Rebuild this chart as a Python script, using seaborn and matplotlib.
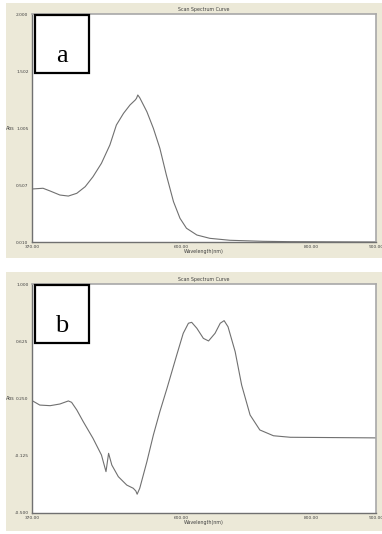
import matplotlib
matplotlib.use("Agg")
import matplotlib.pyplot as plt
from matplotlib.patches import Rectangle
import seaborn as sns
import pandas as pd

# ---- data ----
wl_a = [371, 387, 398, 413, 426, 439, 452, 464, 477, 490, 500, 511, 521, 529, 531, 533, 536, 547, 557, 567,
        577, 588, 598, 608, 624, 644, 675, 726, 767, 900]
abs_a = [0.473, 0.479, 0.455, 0.420, 0.411, 0.435, 0.493, 0.580, 0.697, 0.857, 1.031, 1.133, 1.206, 1.249,
         1.264, 1.293, 1.269, 1.147, 1.002, 0.828, 0.595, 0.362, 0.217, 0.130, 0.071, 0.042, 0.025, 0.016,
         0.013, 0.010]

wl_b = [371, 382, 398, 413, 426, 431, 439, 449, 464, 477, 484, 488, 493, 503, 516, 526, 530, 532, 536, 547,
        557, 567, 578, 593, 603, 611, 616, 624, 634, 642, 652, 660, 666, 672, 683, 693, 706, 721, 742, 768, 900]
abs_b = [0.234, 0.207, 0.203, 0.214, 0.234, 0.225, 0.175, 0.098, -0.011, -0.120, -0.229, -0.109, -0.186,
         -0.262, -0.317, -0.338, -0.356, -0.377, -0.338, -0.164, 0.011, 0.164, 0.317, 0.535, 0.677, 0.743,
         0.749, 0.710, 0.644, 0.627, 0.677, 0.743, 0.760, 0.720, 0.557, 0.338, 0.142, 0.044, 0.006, -0.004,
         -0.008]

xticks = [370, 600, 800, 900]
xticklabels = ["370.00", "600.00", "800.00", "900.00"]
yticks_a = [0.010, 0.5075, 1.005, 1.5025, 2.000]
yticklabels_a = ["0.010", "0.507", "1.005", "1.502", "2.000"]
yticks_b = [-0.500, -0.125, 0.250, 0.625, 1.000]
yticklabels_b = ["-0.500", "-0.125", "0.250", "0.625", "1.000"]
panel_labels = ["a", "b"]

sns.set_style("white")
W, H = 382, 534
fig = plt.figure(figsize=(W / 100, H / 100), dpi=100)
fig.patch.set_facecolor("white")

beige = "#ECE9D8"

def fx(px):
    return px / W

def fy(py):
    return 1 - py / H

panels = [
    dict(df=pd.DataFrame({"wl": wl_a, "abs": abs_a}), yt=yticks_a, ytl=yticklabels_a, ylim=(0.010, 2.000),
         top=14, bottom=242, btop=3, bbot=258, label=panel_labels[0]),
    dict(df=pd.DataFrame({"wl": wl_b, "abs": abs_b}), yt=yticks_b, ytl=yticklabels_b, ylim=(-0.500, 1.000),
         top=284, bottom=513, btop=272, bbot=531, label=panel_labels[1]),
]

for p in panels:
    # beige window background
    fig.patches.append(Rectangle((fx(6), fy(p["bbot"])), fx(376), (p["bbot"] - p["btop"]) / H,
                                 transform=fig.transFigure, facecolor=beige, edgecolor="none", zorder=-5))
    ax = fig.add_axes([fx(32), fy(p["bottom"]), fx(344), (p["bottom"] - p["top"]) / H])
    ax.set_zorder(1)
    ax.set_facecolor("white")
    sns.lineplot(data=p["df"], x="wl", y="abs", ax=ax, color="#707070", linewidth=0.8)
    ax.set_xlim(370, 900)
    ax.set_ylim(*p["ylim"])
    ax.set_xticks(xticks)
    ax.set_xticklabels(xticklabels)
    ax.set_yticks(p["yt"])
    ax.set_yticklabels(p["ytl"])
    ax.tick_params(axis="both", labelsize=3.2, length=1.5, width=0.5, pad=1, colors="#404040")
    ax.set_xlabel("Wavelength(nm)", fontsize=3.4, labelpad=0, color="#404040")
    ax.set_ylabel("Abs", fontsize=3.4, rotation=0, color="#404040", ha="center", va="center")
    ax.yaxis.set_label_coords(-0.062, 0.5)
    ax.set_title("Scan Spectrum Curve", fontsize=3.4, pad=2, color="#404040")
    for s in ["left", "bottom"]:
        ax.spines[s].set_color("#707070")
        ax.spines[s].set_linewidth(1.0)
    for s in ["top", "right"]:
        ax.spines[s].set_color("#a8a8a8")
        ax.spines[s].set_linewidth(1.2)
    # letter box
    bx0, bx1 = 35, 89
    by0, by1 = p["top"] + 1, p["top"] + 59
    box = Rectangle((fx(bx0), fy(by1)), fx(bx1 - bx0), (by1 - by0) / H,
                    transform=fig.transFigure, facecolor="white", edgecolor="black",
                    linewidth=1.6, zorder=10)
    ax.add_artist(box)
    box.set_clip_on(False)
    ax.text(fx((bx0 + bx1) / 2), fy(p["top"] + 48), p["label"], transform=fig.transFigure,
            ha="center", va="baseline", fontsize=19, family="Liberation Serif", color="black", zorder=11)

fig.savefig("out.png", dpi=100)
